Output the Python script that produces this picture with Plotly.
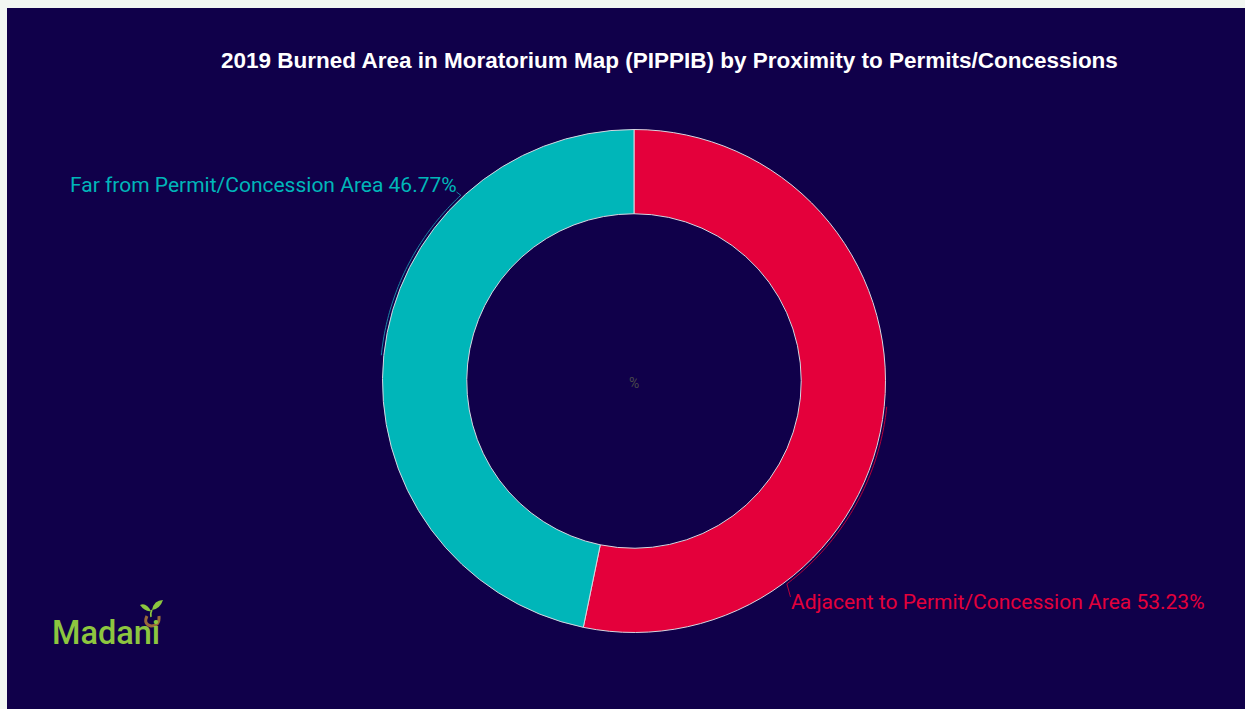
import numpy as np
import plotly.graph_objects as go

# Figure size in pixels
W, H = 1245, 709

# Data
categories = ["Adjacent to Permit/Concession Area", "Far from Permit/Concession Area"]
shares = [53.23, 46.77]
slice_colors = ["#e4003b", "#00b6b9"]
line_colors = ["#b8003a", "#1a86a6"]
title_text = "2019 Burned Area in Moratorium Map (PIPPIB) by Proximity to Permits/Concessions"

# Donut geometry (pixels, origin top-left)
CX, CY, R = 634, 381, 251.5
HOLE = 0.665
BG = "#10004a"
BORDER = "#f2f7f2"


def px(x):
    return x / W


def py(y):
    return 1 - y / H


def polar(theta_deg, r):
    t = np.radians(theta_deg)
    return CX + r * np.sin(t), CY - r * np.cos(t)


fig = go.Figure()

fig.add_trace(go.Pie(
    labels=categories,
    values=shares,
    sort=False,
    direction="clockwise",
    rotation=0,
    hole=HOLE,
    marker=dict(colors=slice_colors, line=dict(color="#d6d6e0", width=1)),
    textinfo="none",
    hovertemplate="%{label}: %{value:.2f}%<extra></extra>",
    showlegend=False,
    domain=dict(x=[px(CX - R), px(CX + R)], y=[py(CY + R), py(CY - R)]),
))

# Outside labels joined to their slices by leader lines running along the rim
total = sum(shares)
label_angles = [143.0, 317.0]          # where each connector leaves the rim
label_pos = [(789, 602), (459, 185)]   # label anchor points
label_anchor = ["left", "right"]
line_end = [(790.5, 597), (456.5, 192)]

shapes = [dict(type="rect", xref="paper", yref="paper", x0=px(7), x1=1, y0=0, y1=py(8),
               fillcolor=BG, line=dict(width=0), layer="below")]
annotations = []

cum = 0.0
for name, val, col, lcol, ang, pos, anc, end in zip(
        categories, shares, slice_colors, line_colors, label_angles, label_pos,
        label_anchor, line_end):
    mid = (cum + val / 2) / total * 360
    cum += val
    thetas = np.linspace(mid, ang, 60)
    pts = [polar(t, R + 2.5) for t in thetas] + [end]
    path = "M " + " L ".join(f"{px(x):.5f},{py(y):.5f}" for x, y in pts)
    shapes.append(dict(type="path", xref="paper", yref="paper", path=path,
                       line=dict(color=lcol, width=1)))
    annotations.append(dict(
        x=px(pos[0]), y=py(pos[1]), xref="paper", yref="paper",
        xanchor=anc, yanchor="middle", showarrow=False,
        text=f"{name} {val:.2f}%",
        font=dict(family="Roboto", size=21, color=col),
    ))

# Centre unit marker
annotations.append(dict(x=px(CX), y=py(383), xref="paper", yref="paper", showarrow=False,
                        text="%", font=dict(family="Roboto", size=14, color="#4a4a4a")))

# Title
annotations.append(dict(x=px(669.5), y=py(61), xref="paper", yref="paper", showarrow=False,
                        xanchor="center", yanchor="middle", text=f"<b>{title_text}</b>",
                        font=dict(family="Liberation Sans", size=22.5, color="#ffffff")))

# Madani wordmark
annotations.append(dict(x=px(50), y=py(633), xref="paper", yref="paper", showarrow=False,
                        xanchor="left", yanchor="middle", text="Madani",
                        font=dict(family="Roboto", size=32.5, color="#8dc63f", weight=500)))


def pth(cmds):
    out = []
    for c in cmds:
        if isinstance(c, str):
            out.append(c)
        else:
            out.append(f"{px(c[0]):.5f},{py(c[1]):.5f}")
    return " ".join(out)


# sprout leaves
shapes.append(dict(type="path", xref="paper", yref="paper", fillcolor="#8dc63f",
                   line=dict(width=0),
                   path=pth(["M", (151, 611), "Q", (146, 602), (140, 605),
                             "Q", (145, 612), (151, 611), "Z"])))
shapes.append(dict(type="path", xref="paper", yref="paper", fillcolor="#8dc63f",
                   line=dict(width=0),
                   path=pth(["M", (152, 610), "Q", (154, 600), (163, 600),
                             "Q", (160, 609), (152, 610), "Z"])))
# stem and seed swirl
shapes.append(dict(type="path", xref="paper", yref="paper",
                   line=dict(color="#8dc63f", width=1.5),
                   path=pth(["M", (152, 610), "Q", (150, 613), (151, 617)])))
shapes.append(dict(type="path", xref="paper", yref="paper",
                   line=dict(color="#9a6a3a", width=3),
                   path=pth(["M", (147, 616), "Q", (143, 624), (151, 626),
                             "Q", (160, 626), (159, 616)])))

fig.update_layout(
    width=W, height=H,
    margin=dict(l=0, r=0, t=0, b=0),
    paper_bgcolor=BORDER,
    plot_bgcolor=BORDER,
    shapes=shapes,
    annotations=annotations,
)

fig.write_html("out.html")
